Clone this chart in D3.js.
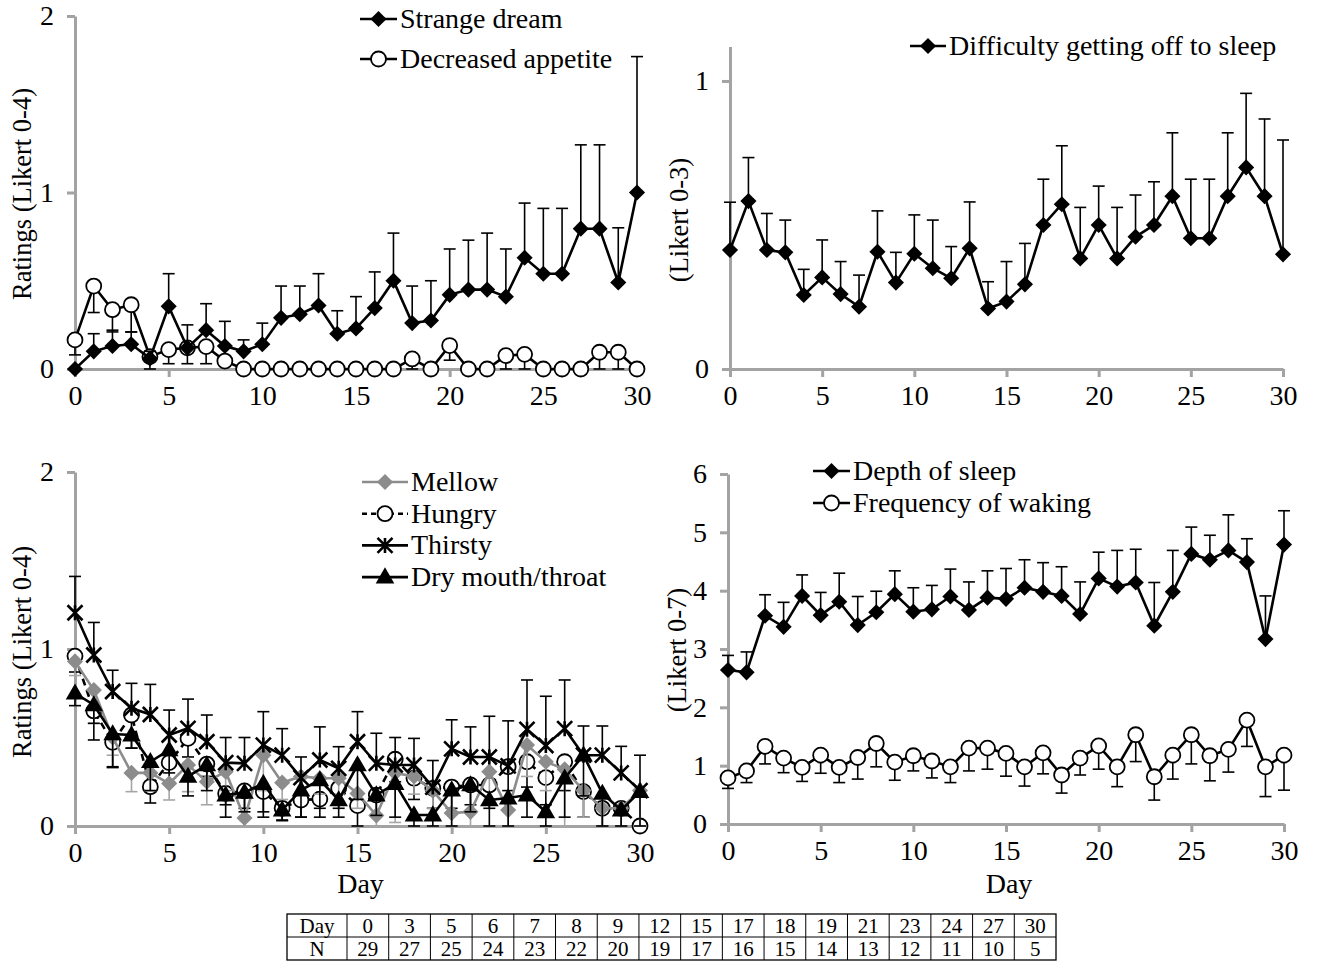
<!DOCTYPE html>
<html>
<head>
<style>
body{margin:0;background:#fff;}
svg{display:block;font-family:"Liberation Serif","Times New Roman",serif;}
</style>
</head>
<body>
<svg id="chart" width="1321" height="964"></svg>
<script src="https://cdnjs.cloudflare.com/ajax/libs/d3/7.8.5/d3.min.js"></script>
<script>
// ---- data ----
const days = [0,1,2,3,4,5,6,7,8,9,10,11,12,13,14,15,16,17,18,19,20,21,22,23,24,25,26,27,28,29,30];

// top left, Likert 0-4
const strangeDream   = [0,0.10,0.13,0.14,0.06,0.355,0.12,0.22,0.13,0.10,0.14,0.29,0.31,0.36,0.20,0.23,0.345,0.50,0.26,0.275,0.42,0.45,0.45,0.41,0.63,0.54,0.54,0.795,0.795,0.49,1.0];
const strangeDreamHi = [null,0.20,0.22,0.21,0.10,0.54,0.25,0.37,0.27,0.165,0.26,0.47,0.47,0.54,0.33,0.41,0.55,0.77,0.47,0.50,0.68,0.73,0.77,0.68,0.94,0.91,0.91,1.27,1.27,0.80,1.77];
const appetite       = [0.165,0.47,0.336,0.364,0.07,0.11,0.12,0.127,0.045,0,0,0,0,0,0,0,0,0,0.057,0,0.133,0,0,0.076,0.083,0,0,0,0.095,0.095,0];
const appetiteLo     = [0.08,0.32,0.21,0.21,0.0,0.03,0.03,0.03,null,null,null,null,null,null,null,null,null,null,0.0,null,0.05,null,null,0.0,0.0,null,null,null,0.0,0.0,null];

// top right, Likert 0-3
const difficulty   = [0.413,0.583,0.413,0.405,0.257,0.318,0.26,0.216,0.407,0.30,0.40,0.35,0.315,0.419,0.21,0.234,0.294,0.50,0.572,0.384,0.50,0.384,0.459,0.50,0.60,0.454,0.454,0.60,0.70,0.60,0.398];
const difficultyHi = [0.579,0.734,0.54,0.517,0.346,0.448,0.373,0.326,0.549,0.405,0.535,0.517,0.425,0.58,0.303,0.373,0.436,0.659,0.775,0.561,0.635,0.561,0.604,0.65,0.82,0.659,0.659,0.82,0.957,0.868,0.795];

// bottom left, Likert 0-4
const mellow     = [0.93,0.768,0.50,0.30,0.30,0.24,0.345,0.25,0.307,0.045,0.40,0.245,0.28,0.27,0.27,0.184,0.06,0.30,0.28,0.20,0.073,0.08,0.307,0.09,0.457,0.363,0.32,0.20,0.10,0.10,0.20];
const mellowLo   = [0.85,0.58,0.40,0.194,0.20,0.147,0.194,0.12,0.20,0.0,0.20,0.15,0.18,0.18,0.18,0.10,0.0,0.02,0.18,0.10,0.0,0.0,0.15,0.0,0.28,0.20,0.0,0.05,0.0,0.0,0.0];
const hungry     = [0.96,0.65,0.473,0.627,0.222,0.358,0.495,0.35,0.184,0.198,0.194,0.10,0.147,0.152,0.213,0.115,0.175,0.377,0.27,0.213,0.22,0.232,0.232,0.335,0.363,0.273,0.363,0.194,0.10,0.10,0.0];
const hungryLo   = [0.87,0.486,0.335,0.44,0.13,0.25,0.39,0.28,0.12,0.10,0.08,0.03,0.05,0.05,0.10,0.0,0.06,0.25,0.15,0.10,0.10,0.12,0.10,0.20,0.22,0.12,0.20,0.05,0.0,0.0,null];
const thirsty    = [1.205,0.966,0.76,0.665,0.63,0.514,0.552,0.476,0.358,0.354,0.457,0.40,0.273,0.373,0.326,0.476,0.354,0.345,0.345,0.22,0.436,0.39,0.39,0.34,0.546,0.455,0.55,0.40,0.40,0.30,0.20];
const thirstyHi  = [1.41,1.15,0.88,0.806,0.80,0.655,0.717,0.627,0.50,0.50,0.646,0.55,0.39,0.56,0.448,0.646,0.524,0.50,0.495,0.37,0.60,0.56,0.62,0.594,0.825,0.733,0.825,0.565,0.565,0.45,0.40];
const dryMouth   = [0.75,0.684,0.52,0.514,0.363,0.43,0.28,0.345,0.175,0.19,0.24,0.09,0.203,0.26,0.147,0.345,0.175,0.24,0.062,0.062,0.203,0.232,0.147,0.158,0.175,0.08,0.27,0.40,0.184,0.09,0.194];
const dryMouthLo = [0.68,0.58,0.33,0.44,0.20,0.30,0.17,0.20,0.05,0.08,0.05,0.034,0.05,0.10,0.05,0.15,0.06,0.05,0.0,0.0,0.0,0.08,0.0,0.0,0.05,0.0,0.05,0.17,0.0,0.0,0.0];

// bottom right, Likert 0-7
const depth     = [2.64,2.60,3.57,3.38,3.91,3.58,3.81,3.41,3.63,3.94,3.64,3.68,3.90,3.67,3.88,3.86,4.05,3.98,3.91,3.60,4.21,4.07,4.14,3.40,3.98,4.63,4.53,4.69,4.49,3.17,4.79];
const depthHi   = [2.89,2.95,3.93,3.80,4.27,3.97,4.30,3.90,3.99,4.34,4.05,4.09,4.37,4.15,4.34,4.38,4.53,4.48,4.41,4.15,4.66,4.69,4.71,4.14,4.69,5.09,4.95,5.30,4.89,3.91,5.37];
const waking    = [0.79,0.91,1.33,1.13,0.97,1.18,0.97,1.14,1.38,1.06,1.17,1.08,0.98,1.30,1.30,1.21,0.98,1.22,0.84,1.13,1.34,0.98,1.53,0.81,1.18,1.53,1.17,1.28,1.78,0.98,1.18];
const wakingLo  = [0.61,0.71,1.03,0.88,0.73,0.87,0.71,0.77,0.98,0.75,0.91,0.79,0.71,0.91,0.94,0.82,0.65,0.86,0.53,0.84,0.94,0.64,1.07,0.41,0.77,1.03,0.74,0.89,1.33,0.47,0.58];

// table below the plots
const tableDays = ["0","3","5","6","7","8","9","12","15","17","18","19","21","23","24","27","30"];
const tableN    = ["29","27","25","24","23","22","20","19","17","16","15","14","13","12","11","10","5"];

const xTicks = [0,5,10,15,20,25,30];
const axisColor = "#a3a3a3";
const FS = 28;

const svg = d3.select("#chart");

function marker(g, type, cx, cy, color) {
  if (type === "diamond") {
    g.append("path").attr("d", d3.symbol(d3.symbolSquare, 130)())
      .attr("transform", `translate(${cx},${cy}) rotate(45)`).attr("fill", color);
  } else if (type === "circle") {
    g.append("circle").attr("cx", cx).attr("cy", cy).attr("r", 7.5)
      .attr("fill", "#fff").attr("stroke", "#000").attr("stroke-width", 1.8);
  } else if (type === "triangle") {
    g.append("path").attr("d", d3.symbol(d3.symbolTriangle, 150)())
      .attr("transform", `translate(${cx},${cy + 1})`).attr("fill", "#000");
  } else if (type === "star") {
    const s = 7.5;
    g.append("path")
      .attr("d", `M${cx - s},${cy - s}L${cx + s},${cy + s}M${cx - s},${cy + s}L${cx + s},${cy - s}M${cx},${cy - s}L${cx},${cy + s}`)
      .attr("stroke", "#000").attr("stroke-width", 2.6).attr("fill", "none");
  }
}

function drawPanel(p) {
  const x = d3.scaleLinear().domain([0, 30]).range([p.x0, p.x1]);
  const y = d3.scaleLinear().domain([0, p.yMax]).range([p.y0, p.y1]);
  const g = svg.append("g");

  const ax = g.append("g").attr("transform", `translate(0,${p.y0})`)
    .call(d3.axisBottom(x).tickValues(xTicks).tickSize(8).tickSizeOuter(0).tickPadding(8));
  const ay = g.append("g").attr("transform", `translate(${p.x0},0)`)
    .call(d3.axisLeft(y).tickValues(p.yTicks).tickSize(8).tickSizeOuter(0).tickPadding(13).tickFormat(d3.format("d")));
  [ax, ay].forEach(a => {
    a.select(".domain").attr("stroke", axisColor).attr("stroke-width", 3);
    a.selectAll(".tick line").attr("stroke", axisColor).attr("stroke-width", 3);
    a.selectAll(".tick text").attr("fill", "#000").style("font-size", FS + "px")
      .style("font-family", '"Liberation Serif", serif');
  });

  // y title
  g.append("text").attr("transform", `translate(${p.titleX},${p.titleY}) rotate(-90)`)
    .attr("text-anchor", "middle").attr("dominant-baseline", "central")
    .style("font-size", "26.5px").text(p.yTitle);
  if (p.xTitle) {
    g.append("text").attr("x", (p.x0 + p.x1) / 2 + 3).attr("y", 893)
      .attr("text-anchor", "middle").style("font-size", FS + "px").text("Day");
  }

  const plot = g.append("g");
  p.series.forEach(s => {
    const sg = plot.append("g");
    // error bars
    s.err.forEach((e, i) => {
      if (e === null) return;
      const xx = x(days[i]);
      sg.append("line").attr("x1", xx).attr("x2", xx).attr("y1", y(s.values[i])).attr("y2", y(e))
        .attr("stroke", s.errColor).attr("stroke-width", 1.6);
      sg.append("line").attr("x1", xx - 6).attr("x2", xx + 6).attr("y1", y(e)).attr("y2", y(e))
        .attr("stroke", s.errColor).attr("stroke-width", 1.6);
    });
    sg.append("path").datum(s.values)
      .attr("d", d3.line().x((d, i) => x(days[i])).y(d => y(d)))
      .attr("fill", "none").attr("stroke", s.color).attr("stroke-width", 2.6)
      .attr("stroke-dasharray", s.dash || null);
    s.values.forEach((v, i) => marker(sg, s.marker, x(days[i]), y(v), s.color));
  });

  // legend
  const lg = g.append("g");
  p.legend.forEach((s, i) => {
    const ly = p.legY + i * p.legStep;
    lg.append("line").attr("x1", p.legX).attr("x2", p.legX + p.legLen).attr("y1", ly).attr("y2", ly)
      .attr("stroke", s.color).attr("stroke-width", 2.6).attr("stroke-dasharray", s.dash ? "5,4" : null);
    marker(lg, s.marker, p.legX + p.legLen / 2, ly, s.color);
    lg.append("text").attr("x", p.legX + p.legLen + 3).attr("y", ly + 9)
      .style("font-size", FS + "px").text(s.name);
  });
}

const sStrange = {name: "Strange dream", values: strangeDream, err: strangeDreamHi, marker: "diamond", color: "#000", errColor: "#000"};
const sAppetite = {name: "Decreased appetite", values: appetite, err: appetiteLo, marker: "circle", color: "#000", errColor: "#000"};
drawPanel({
  x0: 75, x1: 637, y0: 369, y1: 16, yMax: 2, yTicks: [0, 1, 2],
  yTitle: "Ratings (Likert 0-4)", titleX: 22, titleY: 194,
  series: [sAppetite, sStrange], legend: [sStrange, sAppetite],
  legX: 360, legLen: 37, legY: 19, legStep: 40
});

const sDifficulty = {name: "Difficulty getting off to sleep", values: difficulty, err: difficultyHi, marker: "diamond", color: "#000", errColor: "#000"};
drawPanel({
  x0: 730, x1: 1283, y0: 369, y1: 46.4, yMax: 1.12, yTicks: [0, 1],
  yTitle: "(Likert 0-3)", titleX: 679, titleY: 220,
  series: [sDifficulty], legend: [sDifficulty],
  legX: 910, legLen: 36, legY: 46, legStep: 0
});

const sMellow = {name: "Mellow", values: mellow, err: mellowLo, marker: "diamond", color: "#8c8c8c", errColor: "#a6a6a6"};
const sHungry = {name: "Hungry", values: hungry, err: hungryLo, marker: "circle", color: "#000", errColor: "#000", dash: "7,5"};
const sThirsty = {name: "Thirsty", values: thirsty, err: thirstyHi, marker: "star", color: "#000", errColor: "#000"};
const sDry = {name: "Dry mouth/throat", values: dryMouth, err: dryMouthLo, marker: "triangle", color: "#000", errColor: "#000"};
drawPanel({
  x0: 75, x1: 640, y0: 826, y1: 472, yMax: 2, yTicks: [0, 1, 2],
  yTitle: "Ratings (Likert 0-4)", titleX: 22, titleY: 652, xTitle: true,
  series: [sHungry, sMellow, sThirsty, sDry], legend: [sMellow, sHungry, sThirsty, sDry],
  legX: 362, legLen: 46, legY: 482, legStep: 31.7
});

const sDepth = {name: "Depth of sleep", values: depth, err: depthHi, marker: "diamond", color: "#000", errColor: "#000"};
const sWaking = {name: "Frequency of waking", values: waking, err: wakingLo, marker: "circle", color: "#000", errColor: "#000"};
drawPanel({
  x0: 728, x1: 1284, y0: 824, y1: 474, yMax: 6, yTicks: [0, 1, 2, 3, 4, 5, 6],
  yTitle: "(Likert 0-7)", titleX: 677, titleY: 650, xTitle: true,
  series: [sDepth, sWaking], legend: [sDepth, sWaking],
  legX: 813, legLen: 37, legY: 471, legStep: 32
});

// ---- N table ----
const tx0 = 287, tLabelW = 60, tx1 = 1056, ty0 = 914, rowH = 23;
const col = d3.scaleBand().domain(tableDays).range([tx0 + tLabelW, tx1]);
const tg = svg.append("g");
const rows = [["Day", tableDays], ["N", tableN]];
tg.append("rect").attr("x", tx0).attr("y", ty0).attr("width", tx1 - tx0).attr("height", rowH * 2)
  .attr("fill", "none").attr("stroke", "#000").attr("stroke-width", 1.3);
tg.append("line").attr("x1", tx0).attr("x2", tx1).attr("y1", ty0 + rowH).attr("y2", ty0 + rowH)
  .attr("stroke", "#000").attr("stroke-width", 1);
tableDays.forEach(d => {
  tg.append("line").attr("x1", col(d)).attr("x2", col(d)).attr("y1", ty0).attr("y2", ty0 + rowH * 2)
    .attr("stroke", "#000").attr("stroke-width", 1);
});
rows.forEach((r, ri) => {
  const cy = ty0 + rowH * ri + rowH / 2 + 7.5;
  tg.append("text").attr("x", tx0 + tLabelW / 2).attr("y", cy)
    .attr("text-anchor", "middle").style("font-size", "21px").text(r[0]);
  r[1].forEach((v, i) => {
    tg.append("text").attr("x", col(tableDays[i]) + col.bandwidth() / 2).attr("y", cy)
      .attr("text-anchor", "middle").style("font-size", "21px").text(v);
  });
});
</script>
</body>
</html>
